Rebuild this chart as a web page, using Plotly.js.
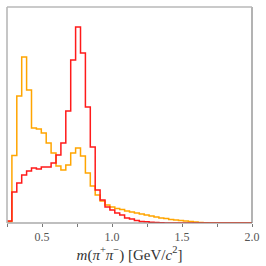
<!DOCTYPE html>
<html><head><meta charset="utf-8">
<script src="https://cdn.plot.ly/plotly-3.0.1.min.js"></script>
<style>html,body{margin:0;padding:0;background:#fff}#c{width:266px;height:266px}</style>
</head><body><div id="c"></div>
<script>
// histogram: 50 bins from 0.25 to 2.0 GeV/c^2
const binLow = 0.25;
const binWidth = 0.035;
const redCounts = [2, 31, 40, 48, 52, 55, 54, 56, 56, 60,
  68, 80, 112, 163, 196, 170, 116, 76, 33, 23,
  16, 13, 10, 8, 5, 4, 2.5, 1.5, 1.2, 0.8,
  0.4, 0.2, 0, 0, 0, 0, 0, 0, 0, 0,
  0, 0, 0, 0, 0, 0, 0, 0, 0, 0];
const orangeCounts = [1.5, 67.5, 127, 166, 133, 95, 94, 90, 80, 70,
  57, 53, 58, 70, 75, 67, 50, 37, 28, 22,
  18, 16, 14.5, 13.5, 12, 11, 10, 9, 8, 7,
  6, 5, 4.5, 3.5, 3, 2.5, 2, 1.5, 1, 0.6,
  0.3, 0, 0, 0, 0, 0, 0, 0, 0, 0];
const tickVals = [0.5, 1.0, 1.5, 2.0];
const tickText = ['0.5', '1.0', '1.5', '2.0'];

function stepTrace(counts, color) {
  const x = [], y = [];
  for (let i = 0; i <= counts.length; i++) {
    x.push(binLow + i * binWidth);
    y.push(i < counts.length ? counts[i] : counts[counts.length - 1]);
  }
  return {x: x, y: y, type: 'scatter', mode: 'lines',
    line: {shape: 'hv', color: color, width: 1.5}, hoverinfo: 'skip', showlegend: false};
}

const data = [stepTrace(orangeCounts, '#ffa500'), stepTrace(redCounts, '#ff1a1a')];
const serif = 'Liberation Serif, DejaVu Serif, serif';
const layout = {
  width: 266, height: 266,
  margin: {l: 7, r: 14, t: 7, b: 43},
  paper_bgcolor: '#fff', plot_bgcolor: '#fff',
  showlegend: false,
  xaxis: {range: [0.25, 2.0], tickvals: tickVals, ticktext: tickText,
    ticks: 'outside', ticklen: 3, tickcolor: '#777', tickwidth: 1,
    minor: {dtick: 0.25, tick0: 0.25, ticks: 'outside', ticklen: 3, tickcolor: '#777', showgrid: false},
    showgrid: false, zeroline: false, showline: false,
    tickfont: {family: serif, size: 12, color: '#555'},
    title: {text: '<i>m</i>(<i>π</i><sup>+</sup><i>π</i><sup>−</sup>) [GeV/<i>c</i><sup>2</sup>]',
      font: {family: serif, size: 15, color: '#333'}, standoff: 2}},
  yaxis: {range: [0, 216], showticklabels: false, ticks: '', showgrid: false,
    zeroline: false, showline: false},
  shapes: [
    {type: 'line', xref: 'paper', yref: 'paper', x0: 0, x1: 1, y0: 0, y1: 0, line: {color: '#808080', width: 1.2}},
    {type: 'line', xref: 'paper', yref: 'paper', x0: 1, x1: 1, y0: 0, y1: 1, line: {color: '#808080', width: 1.2}},
    {type: 'line', xref: 'paper', yref: 'paper', x0: 0, x1: 1, y0: 1, y1: 1, line: {color: '#b8b8b8', width: 1.6}},
    {type: 'line', xref: 'paper', yref: 'paper', x0: 0, x1: 0, y0: 0, y1: 1, line: {color: '#b8b8b8', width: 1.6}}
  ]
};
Plotly.newPlot('c', data, layout, {displayModeBar: false, staticPlot: true});
</script></body></html>
